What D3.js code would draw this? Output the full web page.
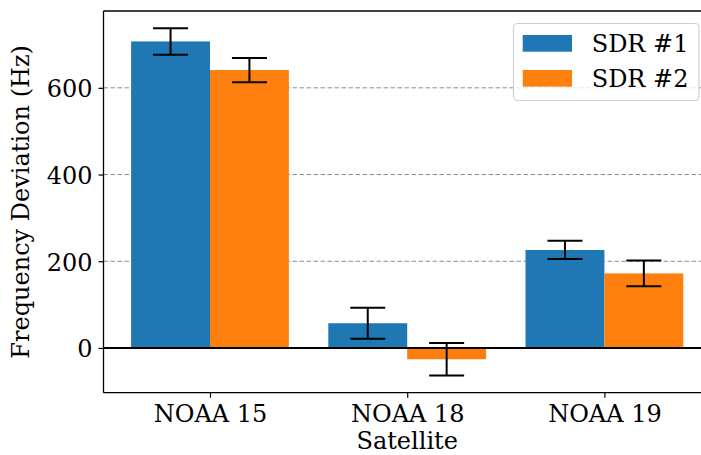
<!DOCTYPE html>
<html>
<head>
<meta charset="utf-8">
<script src="https://cdn.jsdelivr.net/npm/d3@7"></script>
<style>
  html, body { margin: 0; padding: 0; background: #fff; }
  svg { display: block; }
  text { font-family: "DejaVu Serif", serif; fill: #000; }
</style>
</head>
<body>
<script>
// Mean frequency deviation per satellite for two receivers, with error bars
const satellites = ["NOAA 15", "NOAA 18", "NOAA 19"];
const seriesNames = ["SDR #1", "SDR #2"];
const sdr1 = [707, 57, 226];
const sdr1Err = [30.5, 36, 21];
const sdr2 = [641, -26, 172];
const sdr2Err = [28, 37.5, 29.5];
const yTicks = [0, 200, 400, 600];
const colors = ["#1f77b4", "#ff7f0e"];

const W = 701, H = 455;
const plot = { left: 103.5, top: 11, bottom: 392.7, rightFull: 710.9 };
const barWidth = 0.4;

const svg = d3.select("body").append("svg")
  .attr("width", W).attr("height", H);

const x = d3.scaleLinear().domain([-0.54, 2.54]).range([plot.left, plot.rightFull]);
const y = d3.scaleLinear().domain([-103.2, 777.2]).range([plot.bottom, plot.top]);

const rows = [];
satellites.forEach((s, i) => {
  rows.push({ i, k: 0, v: sdr1[i], e: sdr1Err[i] });
  rows.push({ i, k: 1, v: sdr2[i], e: sdr2Err[i] });
});

// dashed horizontal grid
svg.append("g").selectAll("line").data(yTicks).join("line")
  .attr("x1", plot.left).attr("x2", W)
  .attr("y1", d => y(d)).attr("y2", d => y(d))
  .attr("stroke", "#8c8c8c").attr("stroke-width", 1)
  .attr("stroke-dasharray", "4.5,2.5");

// bars
svg.append("g").selectAll("rect").data(rows).join("rect")
  .attr("x", d => x(d.i + (d.k === 0 ? -barWidth : 0)))
  .attr("width", d => x(barWidth) - x(0))
  .attr("y", d => y(Math.max(0, d.v)))
  .attr("height", d => Math.abs(y(d.v) - y(0)))
  .attr("fill", d => colors[d.k]);

// error bars
const cap = 17.5;
const eb = svg.append("g").attr("stroke", "#000").attr("stroke-width", 2);
rows.forEach(d => {
  const cx = x(d.i + (d.k === 0 ? -barWidth / 2 : barWidth / 2));
  eb.append("line").attr("x1", cx).attr("x2", cx)
    .attr("y1", y(d.v + d.e)).attr("y2", y(d.v - d.e));
  [d.v + d.e, d.v - d.e].forEach(v => {
    eb.append("line").attr("x1", cx - cap).attr("x2", cx + cap)
      .attr("y1", y(v)).attr("y2", y(v));
  });
});

// zero reference line
svg.append("line")
  .attr("x1", plot.left).attr("x2", W)
  .attr("y1", y(0)).attr("y2", y(0))
  .attr("stroke", "#000").attr("stroke-width", 2);

// axes
const yAxis = svg.append("g").attr("transform", `translate(${plot.left},0)`)
  .call(d3.axisLeft(y).tickValues(yTicks).tickSize(5).tickPadding(6));
const xAxis = svg.append("g").attr("transform", `translate(0,${plot.bottom})`)
  .call(d3.axisBottom(x).tickValues(d3.range(satellites.length))
    .tickFormat(i => satellites[i]).tickSize(5).tickPadding(6));

[yAxis, xAxis].forEach(g => {
  g.select(".domain").remove();
  g.selectAll(".tick line").attr("stroke", "#000").attr("stroke-width", 1.2);
  g.selectAll(".tick text").attr("font-size", 24).attr("font-family", "DejaVu Serif").attr("fill", "#000");
});
yAxis.selectAll(".tick text").attr("dy", "0.37em");
xAxis.selectAll(".tick text").attr("dy", "0.76em");

// spines (right side falls outside the visible area)
const spine = svg.append("g").attr("stroke", "#000").attr("stroke-width", 1.3).attr("fill", "none");
spine.append("line").attr("x1", plot.left).attr("x2", plot.left).attr("y1", plot.top).attr("y2", plot.bottom);
spine.append("line").attr("x1", plot.left).attr("x2", W).attr("y1", plot.top).attr("y2", plot.top);
spine.append("line").attr("x1", plot.left).attr("x2", W).attr("y1", plot.bottom).attr("y2", plot.bottom);

// axis titles
svg.append("text")
  .attr("x", (plot.left + plot.rightFull) / 2).attr("y", 449)
  .attr("text-anchor", "middle").attr("font-size", 24)
  .text("Satellite");
svg.append("text")
  .attr("transform", `translate(29,${(plot.top + plot.bottom) / 2}) rotate(-90)`)
  .attr("text-anchor", "middle").attr("font-size", 24)
  .text("Frequency Deviation (Hz)");

// legend
const lg = svg.append("g");
lg.append("rect")
  .attr("x", 513.5).attr("y", 23.5).attr("width", 185.5).attr("height", 77)
  .attr("rx", 4).attr("ry", 4)
  .attr("fill", "#fff").attr("fill-opacity", 0.8)
  .attr("stroke", "#d0d0d0").attr("stroke-width", 1.2);
seriesNames.forEach((name, k) => {
  const top = 35 + k * 35;
  lg.append("rect").attr("x", 522.7).attr("y", top).attr("width", 49.3).attr("height", 16.7)
    .attr("fill", colors[k]);
  lg.append("text").attr("x", 591.7).attr("y", top + 17.3).attr("font-size", 24).text(name);
});
</script>
</body>
</html>
